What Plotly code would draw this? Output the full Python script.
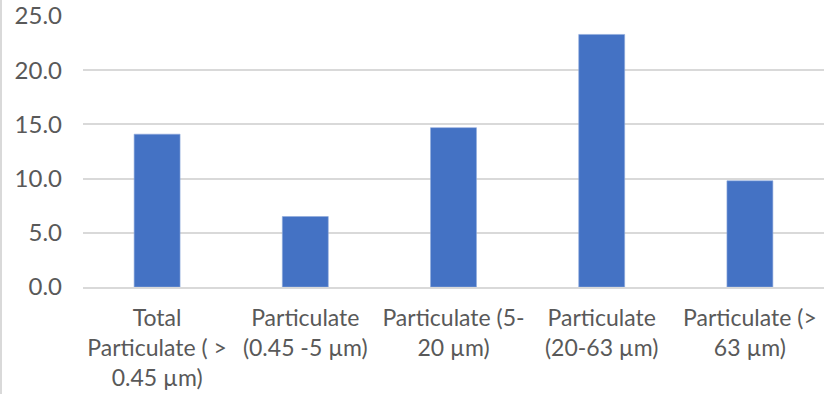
import plotly.graph_objects as go

categories = [
    "Total<br>Particulate ( ><br>0.45 µm)",
    "Particulate<br>(0.45 -5 µm)",
    "Particulate (5-<br>20 µm)",
    "Particulate<br>(20-63 µm)",
    "Particulate (><br>63 µm)",
]
values = [14.1, 6.5, 14.7, 23.3, 9.8]
y_ticks = [0, 5, 10, 15, 20, 25]
y_tick_labels = ["0.0", "5.0", "10.0", "15.0", "20.0", "25.0"]

W, H = 830, 394
ML, MR, MT, MB = 83, 6, 16, 107
plot_w = W - ML - MR
plot_h = H - MT - MB

fig = go.Figure(
    go.Bar(
        x=categories,
        y=values,
        marker=dict(color="#4472C4", line=dict(color="#8FAADC", width=0.6)),
    )
)

x_font = dict(family="Lato, 'Open Sans', sans-serif", size=23, color="#595959")
y_font = dict(family="Lato, 'Open Sans', sans-serif", size=24, color="#595959")

fig.update_layout(
    width=W,
    height=H,
    margin=dict(l=ML, r=MR, t=MT, b=MB, pad=0),
    paper_bgcolor="white",
    plot_bgcolor="white",
    bargap=0.69,
    showlegend=False,
    font=x_font,
    xaxis=dict(
        showgrid=False,
        showline=True,
        linecolor="#D9D9D9",
        linewidth=1.5,
        tickfont=x_font,
        ticks="",
        ticklabelstandoff=10,
        automargin=False,
        fixedrange=True,
    ),
    yaxis=dict(
        range=[0, 25],
        tickvals=y_ticks,
        ticktext=y_tick_labels,
        showgrid=True,
        gridcolor="#D9D9D9",
        gridwidth=1.5,
        zeroline=False,
        showline=False,
        ticks="",
        ticklabelstandoff=20,
        tickfont=y_font,
        automargin=False,
        fixedrange=True,
    ),
    shapes=[
        dict(
            type="line",
            xref="paper",
            yref="paper",
            x0=-(ML - 1) / plot_w,
            x1=-(ML - 1) / plot_w,
            y0=-MB / plot_h,
            y1=1 + MT / plot_h,
            line=dict(color="#D9D9D9", width=2),
        )
    ],
)

fig.write_html("out.html")
